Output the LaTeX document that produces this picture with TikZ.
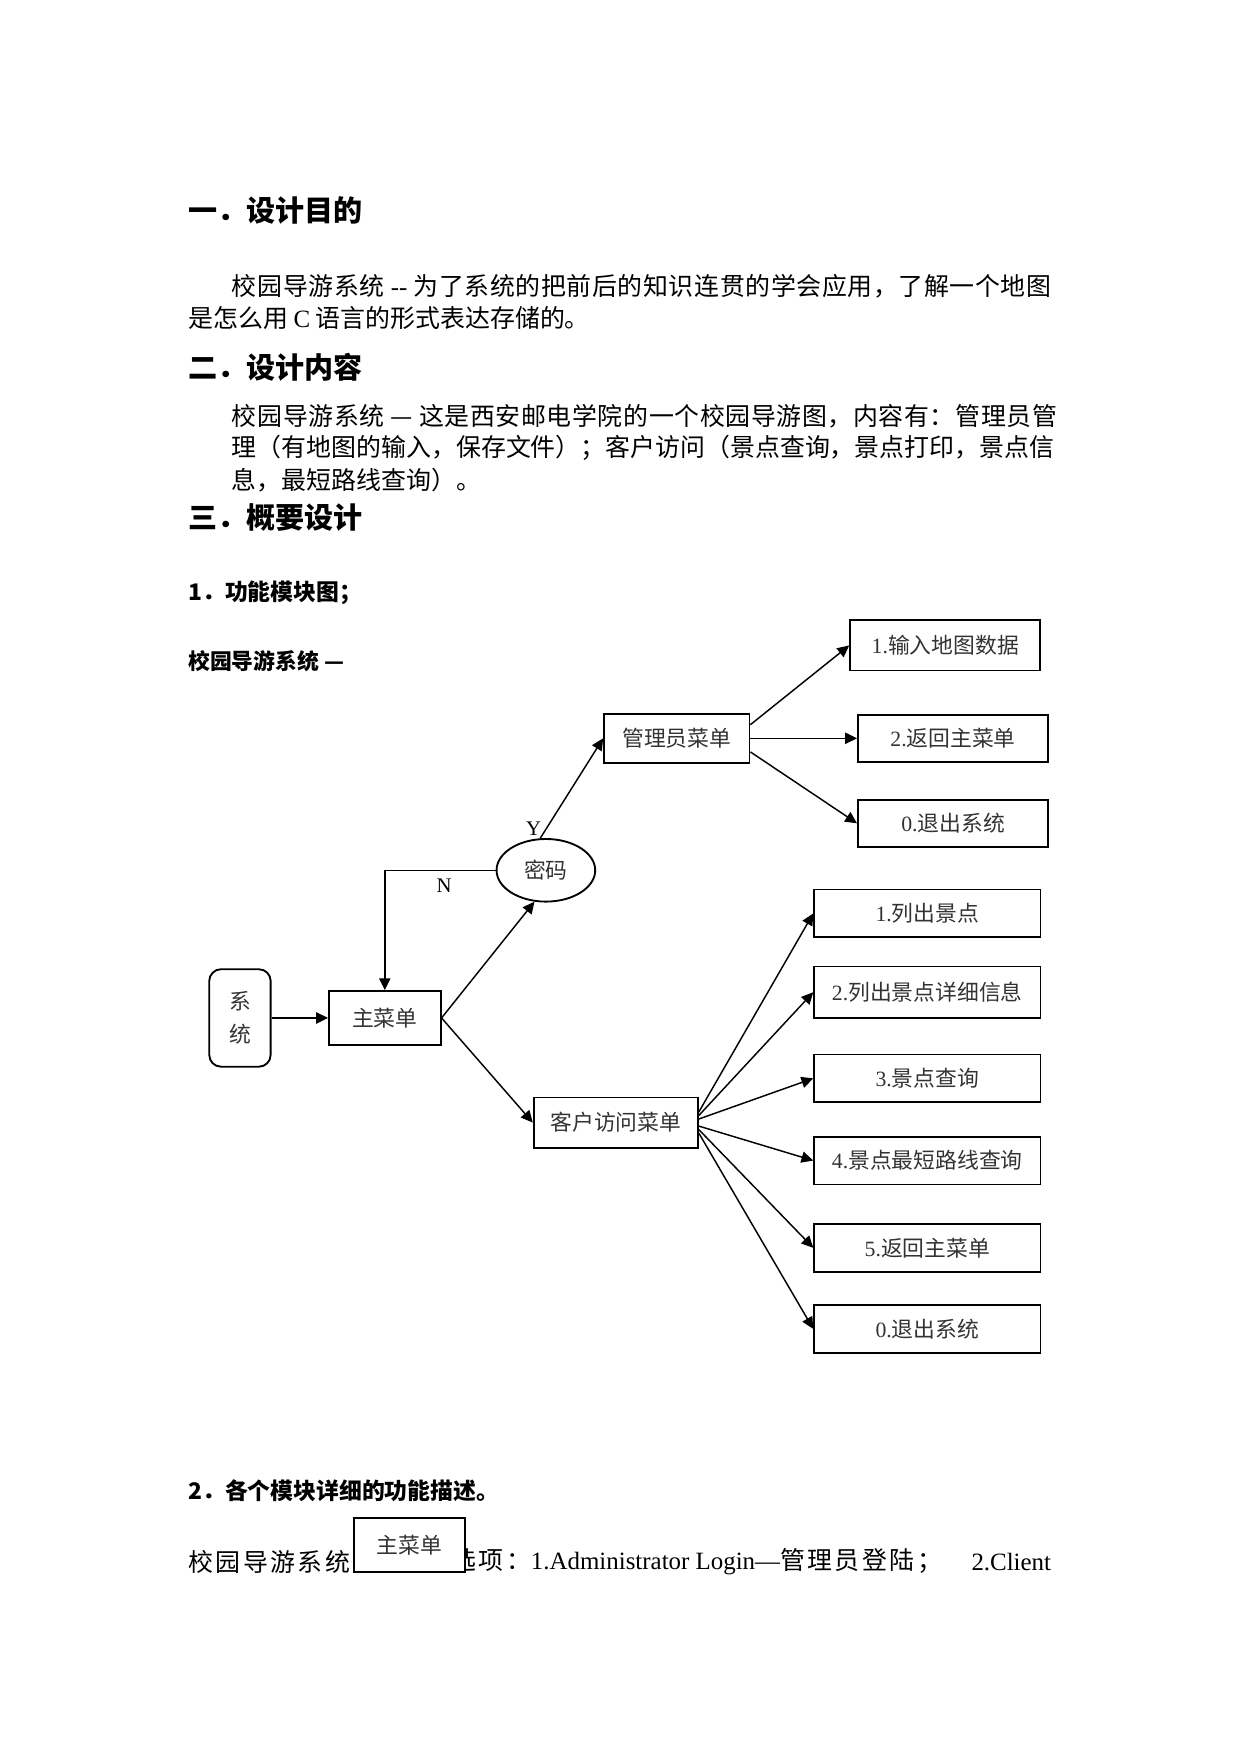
\documentclass[tikz,border=0pt]{standalone}
\usepackage{fontspec}
\setmainfont{Liberation Serif}
\newfontfamily\cjk{Noto Sans CJK SC}
\newfontfamily\cjkjust{Noto Sans CJK SC}[LetterSpace=2.5]
\newfontfamily\cjkwide{Noto Sans CJK SC}[LetterSpace=10]
\usetikzlibrary{arrows.meta,shapes.geometric}
\tikzset{
  heading/.style={anchor=west,inner sep=0pt,font=\cjk\bfseries\fontsize{14}{16}\selectfont},
  subhead/.style={anchor=west,inner sep=0pt,font=\cjk\bfseries\fontsize{11}{13}\selectfont},
  body/.style={anchor=west,inner sep=0pt,font=\cjk\fontsize{12}{14}\selectfont},
  menu/.style={draw,line width=0.9pt,inner sep=1pt,text=black!80,font=\cjk\fontsize{10.5}{12}\selectfont},
  adminitem/.style={menu,minimum width=32.2mm,minimum height=8mm},
  choice/.style={menu,minimum width=38.3mm,minimum height=8.1mm},
  flag/.style={inner sep=0pt,font=\rmfamily\fontsize{10}{12}\selectfont},
  link/.style={line width=0.7pt,-{Triangle[length=2mm,width=1.9mm]}}
}
\begin{document}
\begin{tikzpicture}[x=0.18936mm,y=-0.18936mm]
  \useasboundingbox (0,0) rectangle (1109,1568);

  \node[heading] (h1) at (168,188) {一．设计目的};
  \node[body,font=\cjkjust\fontsize{12}{14}\selectfont] (p1a) at (207,256) {校园导游系统 {\rmfamily -{}-} 为了系统的把前后的知识连贯的学会应用，了解一个地图};
  \node[body] (p1b) at (168,284) {是怎么用 {\rmfamily C} 语言的形式表达存储的。};
  \node[heading] (h2) at (168,328) {二．设计内容};
  \node[body,font=\cjkjust\fontsize{12}{14}\selectfont] (p2a) at (207,372) {校园导游系统 — 这是西安邮电学院的一个校园导游图，内容有：管理员管};
  \node[body] (p2b) at (207,400) {理（有地图的输入，保存文件）；客户访问（景点查询，景点打印，景点信};
  \node[body] (p2c) at (207,429) {息，最短路线查询）。};
  \node[heading] (h3) at (168,463) {三．概要设计};
  \node[subhead] (fig) at (168,530) {1．功能模块图；};
  \node[subhead,font=\cjk\bfseries\fontsize{10.5}{12}\selectfont] (title) at (168,591) {校园导游系统 —};

  \node[adminitem,minimum height=8.5mm] (load) at (845,577) {{\rmfamily 1.}输入地图数据};
  \node[menu,minimum width=24.6mm,minimum height=8.3mm] (admin) at (605,660) {管理员菜单};
  \node[adminitem] (back) at (852,660) {{\rmfamily 2.}返回主菜单};
  \node[adminitem] (quit) at (852,736) {{\rmfamily 0.}退出系统};
  \node[menu,ellipse,inner sep=0pt,minimum width=16.7mm,minimum height=10.6mm] (pwd) at (488,778) {密码};
  \node[menu,rounded corners=2mm,align=center,minimum width=10.4mm,minimum height=16.5mm] (sys) at (214.5,910) {系\\[1.3mm]统};
  \node[menu,minimum width=18.9mm,minimum height=9.1mm] (main) at (344,910) {主菜单};
  \node[menu,minimum width=27.8mm,minimum height=8.5mm] (client) at (550.5,1003.5) {客户访问菜单};
  \node[choice] (list) at (829,816.5) {{\rmfamily 1.}列出景点};
  \node[choice,minimum height=8.7mm] (detail) at (829,887) {{\rmfamily 2.}列出景点详细信息};
  \node[choice] (query) at (829,964) {{\rmfamily 3.}景点查询};
  \node[choice] (path) at (829,1037.5) {{\rmfamily 4.}景点最短路线查询};
  \node[choice] (home) at (829,1115.5) {{\rmfamily 5.}返回主菜单};
  \node[choice] (exit) at (829,1188) {{\rmfamily 0.}退出系统};
  \node[flag] (yes) at (477,741) {Y};
  \node[flag] (no) at (397,792) {N};

  \draw[link] (sys.east) -- (main.west);
  \draw[link] (main.east) -- (pwd.250);
  \draw[link] (main.east) -- (client.west);
  \draw[link] (pwd.100) -- (admin.west);
  \draw[link] (pwd.west) -| (main.north);
  \draw[link] ([yshift=2.3mm]admin.east) -- (load.west);
  \draw[link] (admin.east) -- (back.west);
  \draw[link] ([yshift=-2.3mm]admin.east) -- (quit.west);
  \foreach \dst/\dy in {list/3,detail/2,query/1,path/-1,home/-2,exit/-3}
    \draw[link] ([yshift=\dy*0.6mm]client.east) -- (\dst.west);

  \node[subhead] (desc) at (168,1333) {2．各个模块详细的功能描述。};
  \node[body,font=\cjkwide\fontsize{12}{14}\selectfont] (lineL) at (168,1396) {校园导游系统};
  \node[body,font=\cjkwide\fontsize{12}{14}\selectfont] (lineR) at (403,1396) {选项：{\rmfamily 1.Administrator Login—}管理员登陆；};
  \node[body,anchor=east,font=\rmfamily\fontsize{12}{14}\selectfont] (lineE) at (940,1396) {2.Client};
  \node[menu,fill=white,minimum width=18.9mm,minimum height=9.1mm] (main2) at (366,1381) {主菜单};
\end{tikzpicture}
\end{document}
